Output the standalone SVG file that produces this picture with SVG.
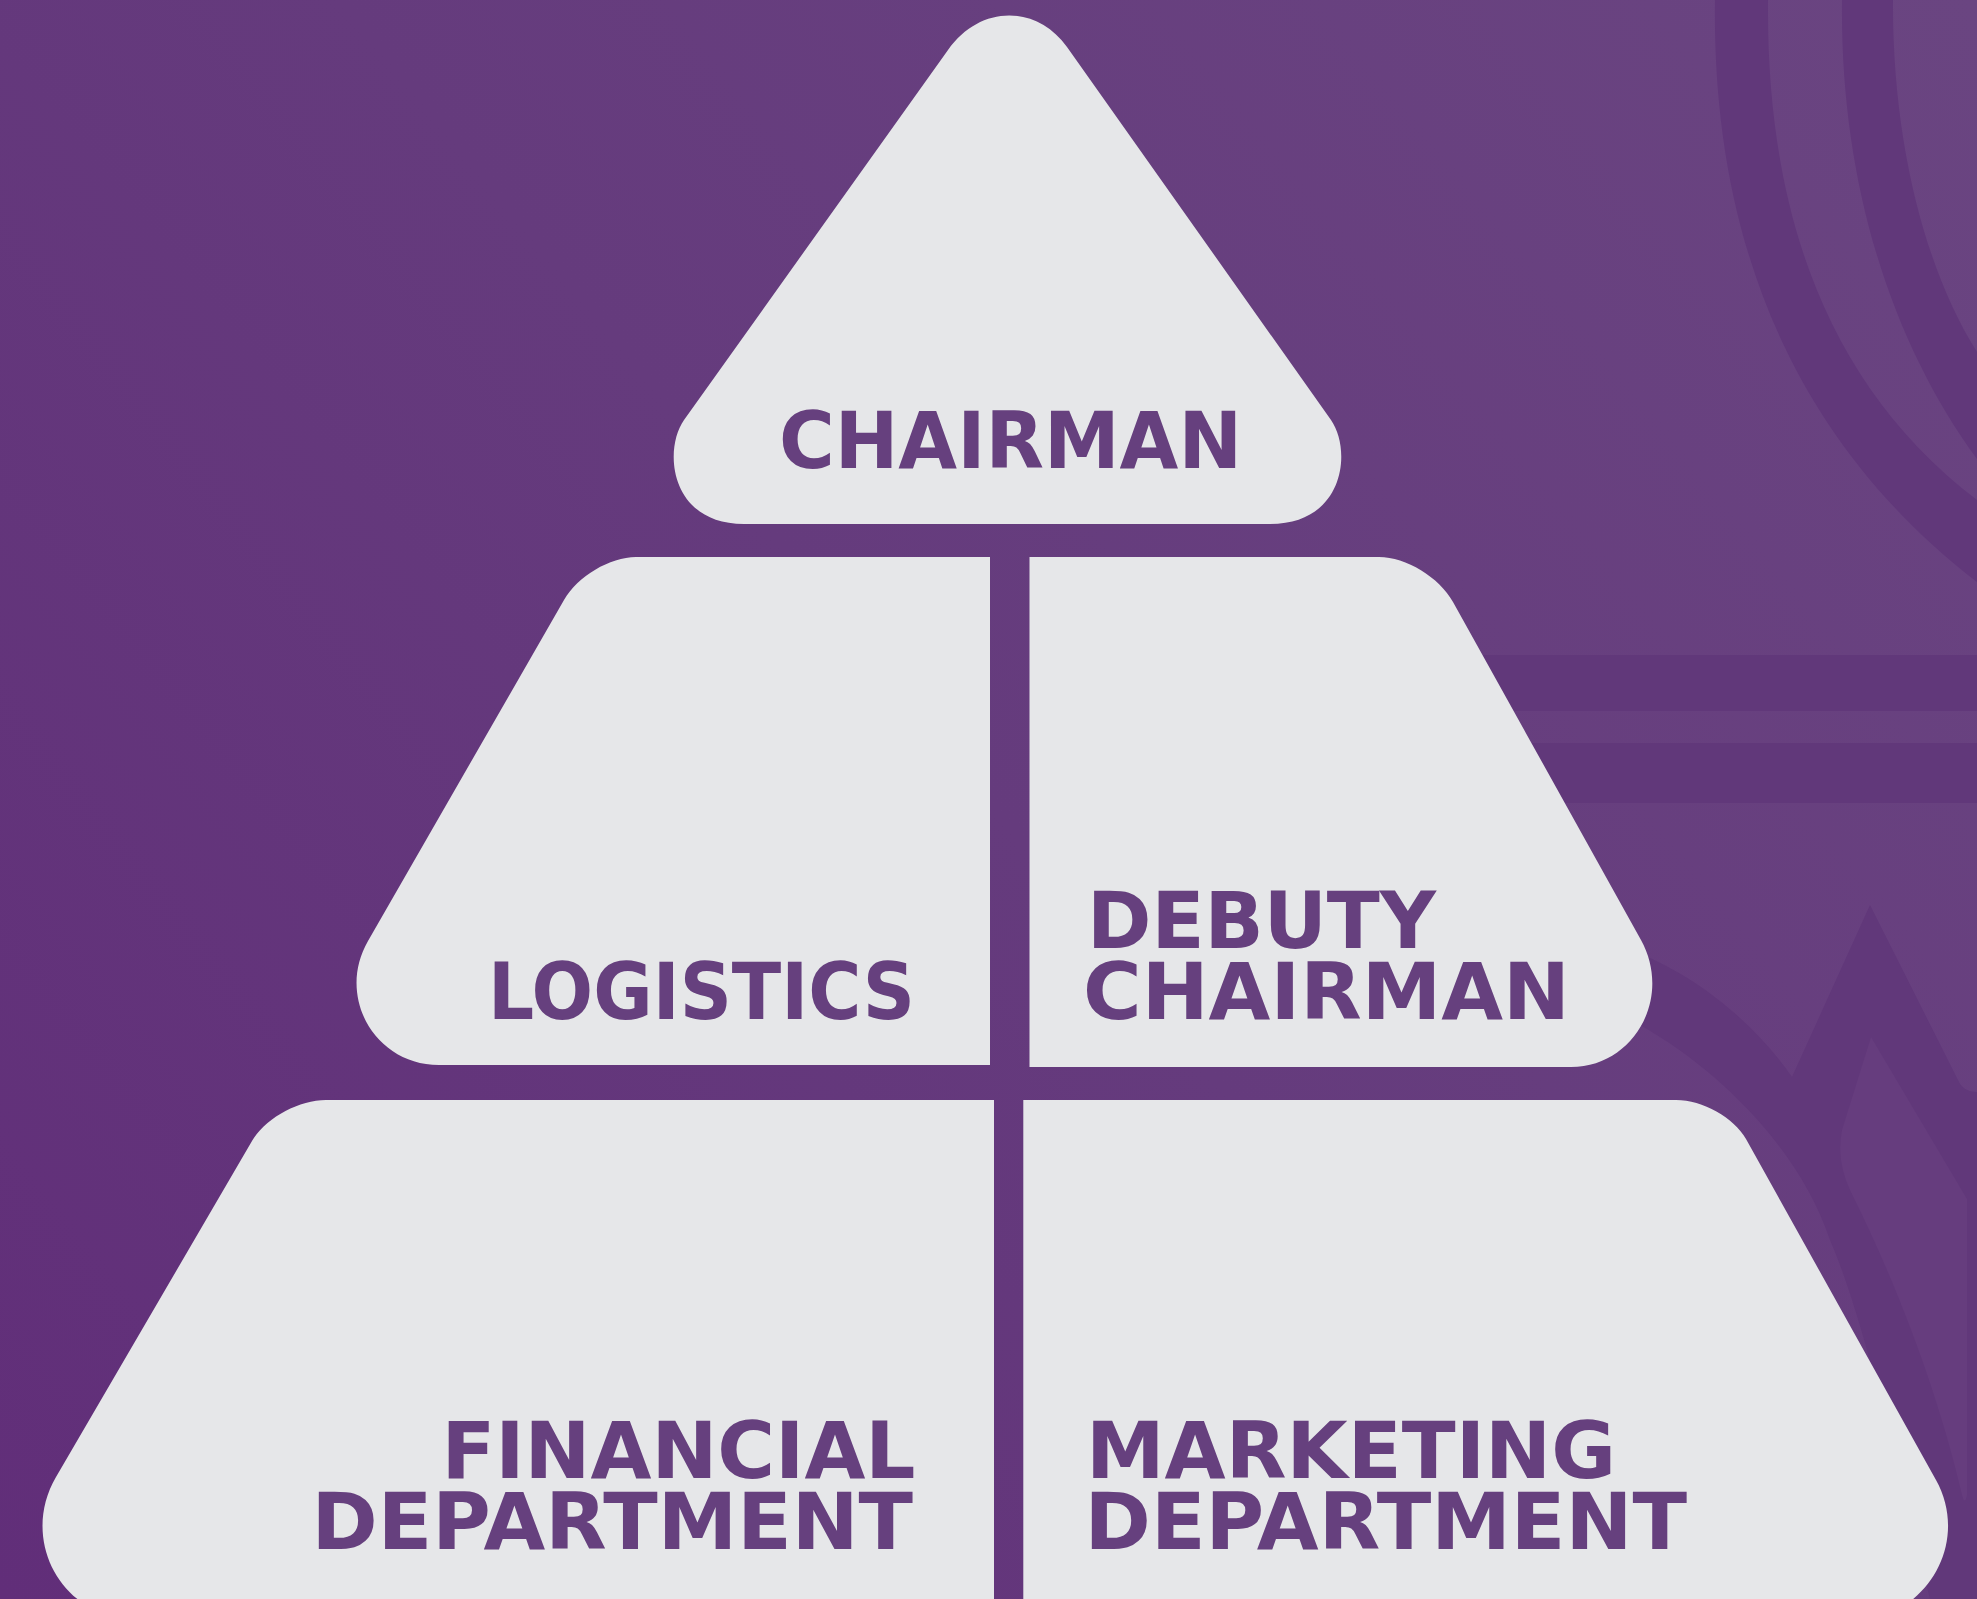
<svg xmlns="http://www.w3.org/2000/svg" width="1977" height="1599" viewBox="0 0 1977 1599">
<defs>
<linearGradient id="bg" x1="0" y1="1599" x2="1977" y2="0" gradientUnits="userSpaceOnUse">
<stop offset="0" stop-color="#612e79"/>
<stop offset="0.5" stop-color="#653b7d"/>
<stop offset="1" stop-color="#6a4581"/>
</linearGradient>
</defs>
<style>
.card{fill:#e6e7e9}
.deco{fill:#61387a}
.lbl{font-family:"DejaVu Sans","Liberation Sans",sans-serif;font-weight:bold;font-size:78px;fill:#66407e}
</style>
<rect x="0" y="0" width="1977" height="1599" fill="url(#bg)"/>
<g id="background-decoration">
<path class="deco" d="M1715,0 C1712,220 1780,430 1977,582 L1977,500 C1820,380 1766,200 1768,0 Z"/>
<path class="deco" d="M1842,0 C1840,180 1890,340 1977,459 L1977,352 C1925,270 1892,140 1893,0 Z"/>
<rect class="deco" x="1300" y="655" width="677" height="56"/>
<rect class="deco" x="1300" y="743" width="677" height="60"/>
<path class="deco" d="M1630,950 C1700,975 1760,1030 1792,1077 L1870,905 L1958,1080 Q1963,1092 1977,1092 L1977,1599 L1930,1599 C1900,1480 1865,1320 1830,1240 C1800,1150 1720,1070 1640,1025 Z"/>
<path fill="#663d7e" d="M1871,1037 L1967,1199 L1967,1495 Q1965,1506 1962,1495 C1940,1400 1900,1290 1850,1190 Q1836,1160 1842,1130 Z"/>
</g>
<g id="connectors"></g>
<g id="node-chairman">
<path class="card" d="M948,50 C979.5,5 1036,4 1067,47 L1331,420 C1352,450 1345,524 1270,524 L744,524 C670,524 663,450 684,420 Z"/>
<text class="lbl" x="779" y="468" textLength="463" lengthAdjust="spacingAndGlyphs">CHAIRMAN</text>
</g>
<g id="node-logistics">
<path class="card" d="M636,557 L990,557 L990,1065 L439,1065 C374.9,1065 335.9,996.8 368,941 L564,600 C577.6,576.4 610,557 636,557 Z"/>
<text class="lbl" x="488" y="1019" textLength="427" lengthAdjust="spacingAndGlyphs">LOGISTICS</text>
</g>
<g id="node-debuty-chairman">
<path class="card" d="M1029.5,557 L1379,557 C1406,557 1439.3,577.3 1453,602 L1641,940 C1672.7,997.2 1634.2,1067 1571,1067 L1029.5,1067 Z"/>
<text class="lbl" x="1087" y="948" textLength="349" lengthAdjust="spacingAndGlyphs">DEBUTY</text>
<text class="lbl" x="1083" y="1019" textLength="487" lengthAdjust="spacingAndGlyphs">CHAIRMAN</text>
</g>
<g id="node-financial-department">
<path class="card" d="M326,1100 L994,1100 L994,1620 L138,1620 C63.5,1620 18.5,1541.4 56,1477 L252,1141 C265.1,1118.5 298.5,1100 326,1100 Z"/>
<text class="lbl" x="441.5" y="1478" textLength="474" lengthAdjust="spacingAndGlyphs">FINANCIAL</text>
<text class="lbl" x="311.5" y="1549" textLength="601.5" lengthAdjust="spacingAndGlyphs">DEPARTMENT</text>
</g>
<g id="node-marketing-department">
<path class="card" d="M1023.3,1100 L1676,1100 C1702.6,1100 1734.1,1117.6 1746,1139 L1936,1480 C1971,1543 1925.6,1620 1853.6,1620 L1023.3,1620 Z"/>
<text class="lbl" x="1086" y="1478" textLength="530" lengthAdjust="spacingAndGlyphs">MARKETING</text>
<text class="lbl" x="1084.5" y="1549" textLength="602.5" lengthAdjust="spacingAndGlyphs">DEPARTMENT</text>
</g>
</svg>
